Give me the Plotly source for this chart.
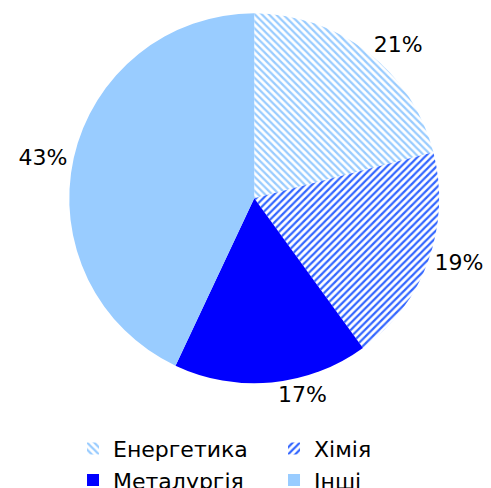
import plotly.graph_objects as go

categories = ["Енергетика", "Хімія", "Металургія", "Інші"]
values = [21, 19, 17, 43]
fg_colors = ["#99ccff", "#3366ff", "#0000ff", "#99ccff"]
bg_colors = ["#ffffff", "#ffffff", "#0000ff", "#99ccff"]
shapes = ["\\", "/", "", ""]

fig = go.Figure(go.Pie(
    labels=categories,
    values=values,
    sort=False,
    direction="clockwise",
    rotation=0,
    textposition="outside",
    texttemplate="%{percent:.0%}",
    textfont=dict(family="DejaVu Sans", size=22, color="#000000"),
    marker=dict(
        colors=fg_colors,
        line=dict(width=0),
        pattern=dict(shape=shapes, fgcolor=fg_colors, bgcolor=bg_colors,
                     size=5, solidity=0.45, fillmode="replace"),
    ),
    domain=dict(x=[0.019, 0.984], y=[0.231, 0.989]),
    hoverinfo="none",
))

fig.update_layout(
    width=491, height=488,
    margin=dict(l=0, r=0, t=0, b=0, autoexpand=False),
    paper_bgcolor="white",
    font=dict(family="DejaVu Sans", size=22, color="#000000"),
    showlegend=True,
    legend=dict(orientation="h", x=0.1324, y=0.14, xanchor="left", yanchor="top",
                entrywidth=156, entrywidthmode="pixels",
                font=dict(size=22), tracegroupgap=0, itemwidth=30),
)

fig.write_html("out.html")
